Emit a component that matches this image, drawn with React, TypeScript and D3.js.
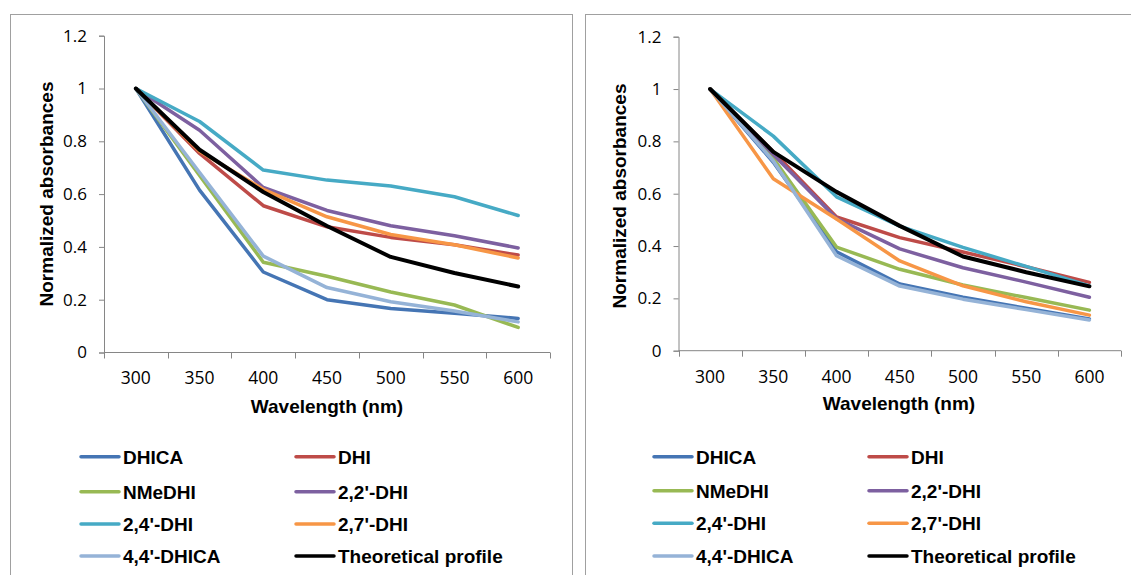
import React, { useEffect, useRef } from "react";
import * as d3 from "d3";

const wavelengths = ["300", "350", "400", "450", "500", "550", "600"];
const yTicks = [0, 0.2, 0.4, 0.6, 0.8, 1, 1.2];

const seriesNames = [
  "DHICA",
  "DHI",
  "NMeDHI",
  "2,2'-DHI",
  "2,4'-DHI",
  "2,7'-DHI",
  "4,4'-DHICA",
  "Theoretical profile",
];
const seriesColors = [
  "#4575B4",
  "#BE4B48",
  "#98B954",
  "#7D60A0",
  "#46AAC5",
  "#F79646",
  "#95B3D7",
  "#000000",
];

// left panel
const leftDHICA = [1, 0.615, 0.305, 0.2, 0.167, 0.149, 0.129];
const leftDHI = [1, 0.754, 0.556, 0.476, 0.436, 0.408, 0.369];
const leftNMeDHI = [1, 0.671, 0.342, 0.289, 0.229, 0.18, 0.095];
const left22DHI = [1, 0.842, 0.625, 0.538, 0.48, 0.442, 0.396];
const left24DHI = [1, 0.875, 0.691, 0.653, 0.631, 0.59, 0.519];
const left27DHI = [1, 0.762, 0.618, 0.514, 0.447, 0.408, 0.358];
const left44DHICA = [1, 0.682, 0.365, 0.246, 0.192, 0.157, 0.116];
const leftTheoretical = [1, 0.768, 0.608, 0.479, 0.362, 0.301, 0.25];

// right panel
const rightDHICA = [1, 0.72, 0.378, 0.255, 0.204, 0.162, 0.121];
const rightDHI = [1, 0.76, 0.511, 0.432, 0.377, 0.321, 0.261];
const rightNMeDHI = [1, 0.735, 0.396, 0.311, 0.251, 0.203, 0.155];
const right22DHI = [1, 0.75, 0.505, 0.389, 0.317, 0.262, 0.204];
const right24DHI = [1, 0.82, 0.588, 0.476, 0.395, 0.322, 0.248];
const right27DHI = [1, 0.657, 0.503, 0.343, 0.248, 0.187, 0.136];
const right44DHICA = [1, 0.725, 0.363, 0.247, 0.197, 0.157, 0.117];
const rightTheoretical = [1, 0.76, 0.607, 0.477, 0.36, 0.3, 0.246];

const leftSeries = [leftDHICA, leftDHI, leftNMeDHI, left22DHI, left24DHI, left27DHI, left44DHICA, leftTheoretical];
const rightSeries = [rightDHICA, rightDHI, rightNMeDHI, right22DHI, right24DHI, right27DHI, right44DHICA, rightTheoretical];

const tickFont = "'Open Sans', 'Noto Sans', sans-serif";
const boldFont = "'Liberation Sans', Arial, sans-serif";
const axisGray = "#868686";

export default function App() {
  const ref = useRef<SVGSVGElement>(null);

  useEffect(() => {
    const svg = d3.select(ref.current);
    svg.selectAll("*").remove();

    const drawPanel = (p: any, series: number[][]) => {
      const g = svg.append("g");

      // frame
      g.append("rect")
        .attr("x", p.frameX + 0.5)
        .attr("y", p.frameY + 0.5)
        .attr("width", p.frameW)
        .attr("height", 600)
        .attr("fill", "#fff")
        .attr("stroke", "#A0A0A0")
        .attr("stroke-width", 1);

      const x = d3.scaleBand().domain(wavelengths).range([p.x0, p.x1]);
      const y = d3.scaleLinear().domain([0, 1.2]).range([p.y0, p.y1]);

      // y axis
      const yAxis = g
        .append("g")
        .attr("transform", `translate(${p.x0},0)`)
        .call(d3.axisLeft(y).tickValues(yTicks).tickSize(5).tickPadding(12).tickFormat((d: any) => `${+d.toFixed(1)}`));
      yAxis.select(".domain").attr("stroke", axisGray);
      yAxis.selectAll("line").attr("stroke", axisGray);
      yAxis.selectAll("text")
        .attr("font-family", tickFont)
        .attr("font-size", "17px")
        .attr("fill", "#000");

      // x axis with ticks between categories
      const xAxis = g.append("g").attr("transform", `translate(0,${p.y0})`);
      xAxis.append("line")
        .attr("x1", p.x0).attr("x2", p.x1)
        .attr("stroke", axisGray);
      const bounds = [...wavelengths.map((w) => x(w) as number), p.x1];
      xAxis.selectAll(".tk")
        .data(bounds)
        .join("line")
        .attr("x1", (d) => Math.round(d) + 0.5)
        .attr("x2", (d) => Math.round(d) + 0.5)
        .attr("y1", 0)
        .attr("y2", 6)
        .attr("stroke", axisGray);
      xAxis.selectAll(".lb")
        .data(wavelengths)
        .join("text")
        .attr("x", (d) => (x(d) as number) + x.bandwidth() / 2)
        .attr("y", p.tickLabelY - p.y0)
        .attr("text-anchor", "middle")
        .attr("font-family", tickFont)
        .attr("font-size", "17.5px")
        .attr("fill", "#000")
        .text((d) => d);

      // lines
      const line = d3
        .line<number>()
        .x((_, i) => (x(wavelengths[i]) as number) + x.bandwidth() / 2)
        .y((d) => y(d));
      series.forEach((vals, i) => {
        g.append("path")
          .datum(vals)
          .attr("d", line)
          .attr("fill", "none")
          .attr("stroke", seriesColors[i])
          .attr("stroke-width", i === 7 ? 4 : 3.5)
          .attr("stroke-linejoin", "round")
          .attr("stroke-linecap", "round");
      });

      // axis titles
      g.append("text")
        .attr("x", p.xTitleX)
        .attr("y", p.xTitleY)
        .attr("text-anchor", "middle")
        .attr("font-family", boldFont)
        .attr("font-weight", "700")
        .attr("font-size", "19px")
        .text("Wavelength (nm)");
      g.append("text")
        .attr("transform", `translate(${p.yTitleX},${p.yTitleY}) rotate(-90)`)
        .attr("text-anchor", "middle")
        .attr("font-family", boldFont)
        .attr("font-weight", "700")
        .attr("font-size", "19px")
        .text("Normalized absorbances");

      // legend
      seriesNames.forEach((name, i) => {
        const col = i % 2;
        const row = Math.floor(i / 2);
        const lx = p.legX[col];
        const ly = p.legY[row];
        g.append("line")
          .attr("x1", lx)
          .attr("x2", lx + 38)
          .attr("y1", ly)
          .attr("y2", ly)
          .attr("stroke", seriesColors[i])
          .attr("stroke-width", 3.5)
          .attr("stroke-linecap", "round");
        g.append("text")
          .attr("x", lx + 42)
          .attr("y", ly + 7)
          .attr("font-family", boldFont)
          .attr("font-weight", "700")
          .attr("font-size", "19px")
          .attr("fill", "#000")
          .text(name);
      });
    };

    drawPanel(
      {
        frameX: 10, frameY: 14, frameW: 562,
        x0: 104, x1: 550, y0: 352.5, y1: 35.7,
        tickLabelY: 384, xTitleX: 327, xTitleY: 413,
        yTitleX: 53, yTitleY: 194,
        legX: [81, 296], legY: [456.7, 491.7, 524, 556],
      },
      leftSeries
    );
    drawPanel(
      {
        frameX: 585, frameY: 14, frameW: 600,
        x0: 678.5, x1: 1121, y0: 350.7, y1: 36.7,
        tickLabelY: 383, xTitleX: 899, xTitleY: 410,
        yTitleX: 626, yTitleY: 196,
        legX: [654, 869], legY: [456.7, 490.7, 523.3, 556],
      },
      rightSeries
    );
  }, []);

  return (
    <svg
      ref={ref}
      width={1131}
      height={575}
      style={{ position: "absolute", left: 0, top: 0, background: "#fff" }}
    />
  );
}
